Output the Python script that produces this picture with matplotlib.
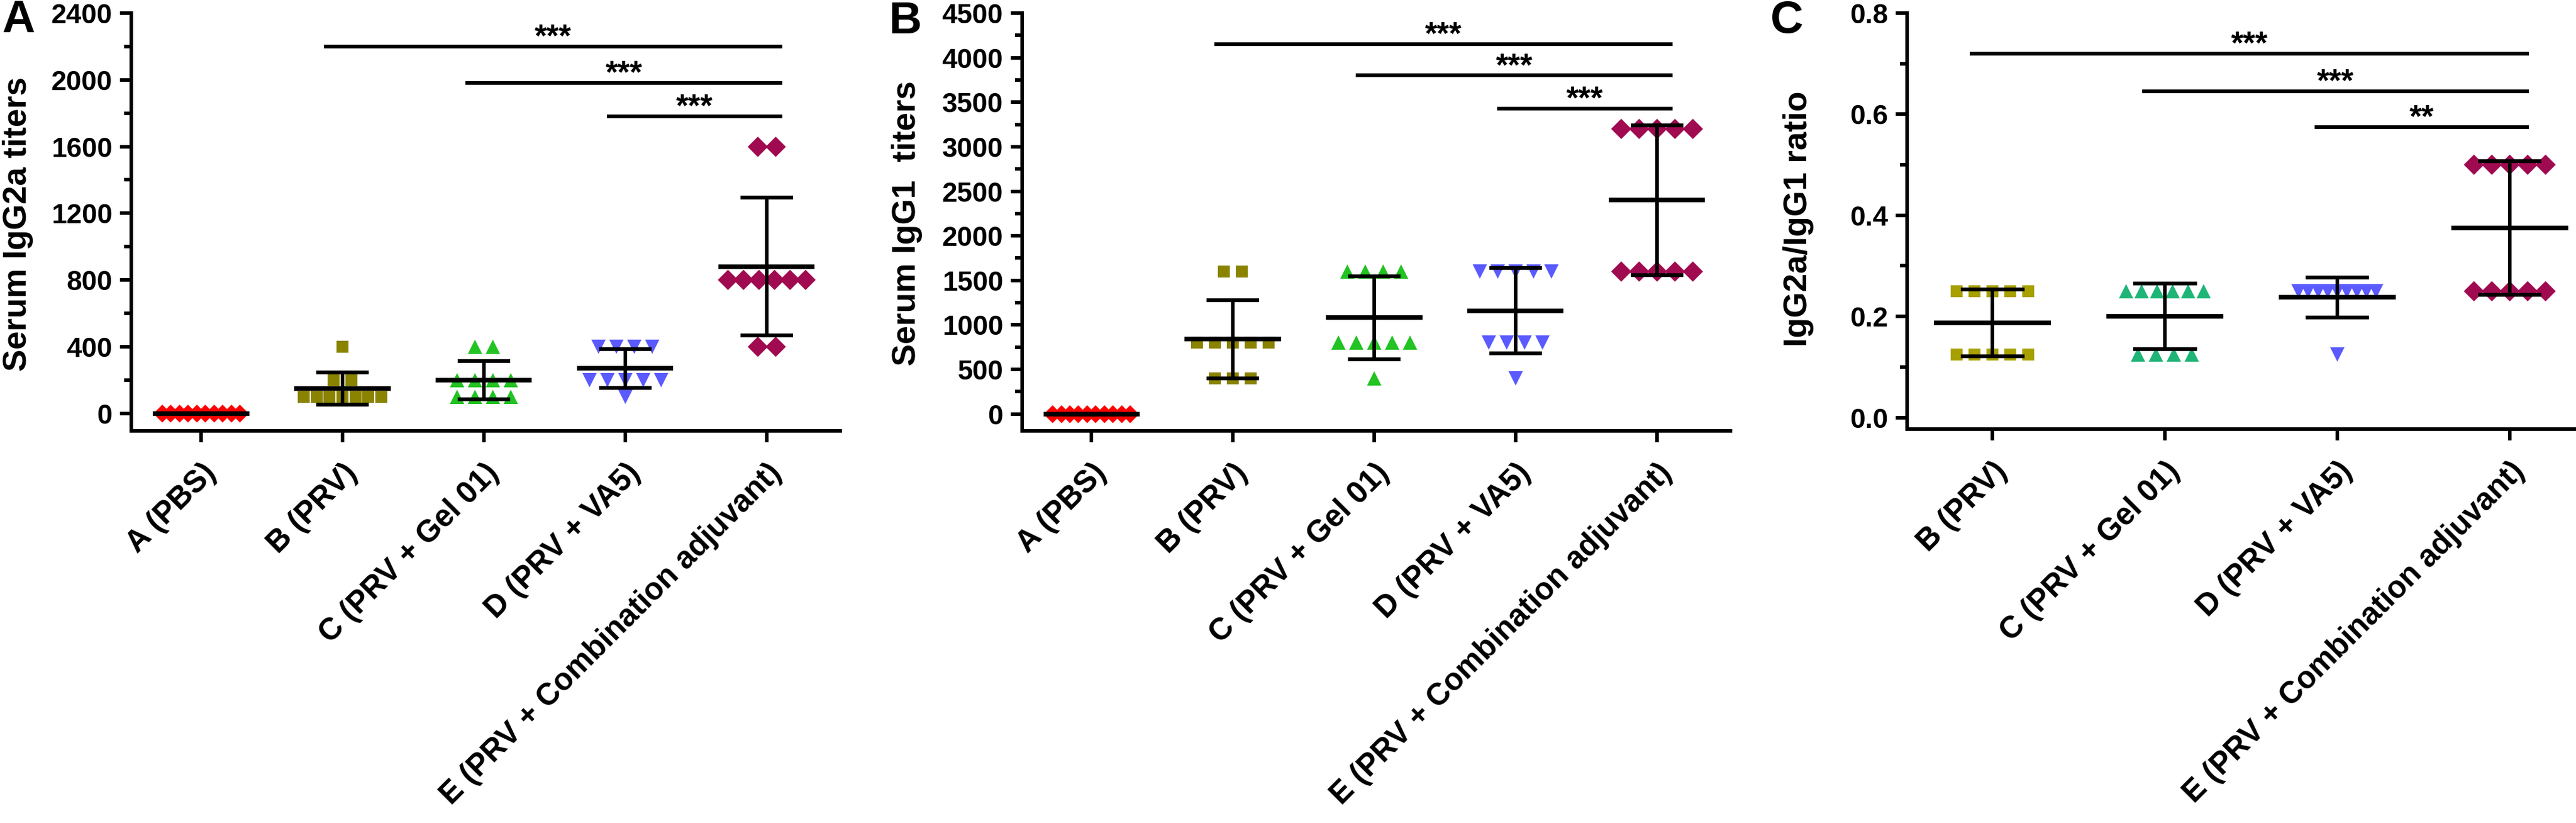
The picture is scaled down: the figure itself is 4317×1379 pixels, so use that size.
import numpy as np
import matplotlib
matplotlib.use("Agg")
import matplotlib.pyplot as plt
from matplotlib.ticker import MultipleLocator, FormatStrFormatter
from matplotlib.transforms import ScaledTranslation

plt.rcParams["font.family"] = ["Liberation Sans", "DejaVu Sans"]
plt.rcParams["font.weight"] = "bold"

# Groups
groups = ["A (PBS)", "B (PRV)", "C (PRV + Gel 01)", "D (PRV + VA5)",
          "E (PRV + Combination adjuvant)"]
colors = ["#FF0000", "#8A8300", "#22C322", "#5A5AFF", "#A00A50"]
colors_ratio = ["#A8A000", "#1FB577", "#5A5AFF", "#A00A50"]
markers = ["D", "s", "^", "v", "D"]
msizes = [15, 14, 17, 17, 17]

# Serum IgG2a titers (10 mice per group)
igg2a_A = [0, 0, 0, 0, 0, 0, 0, 0, 0, 0]
igg2a_B = [400, 200, 200, 100, 100, 100, 100, 100, 100, 100]
igg2a_C = [400, 400, 200, 200, 200, 200, 100, 100, 100, 100]
igg2a_D = [400, 400, 400, 400, 200, 200, 200, 200, 200, 100]
igg2a_E = [1600, 1600, 800, 800, 800, 800, 800, 800, 400, 400]

# Serum IgG1 titers
igg1_A = [0, 0, 0, 0, 0, 0, 0, 0, 0, 0]
igg1_B = [1600, 1600, 800, 800, 800, 800, 800, 400, 400, 400]
igg1_C = [1600, 1600, 1600, 1600, 800, 800, 800, 800, 800, 400]
igg1_D = [1600, 1600, 1600, 1600, 1600, 800, 800, 800, 800, 400]
igg1_E = [3200, 3200, 3200, 3200, 3200, 1600, 1600, 1600, 1600, 1600]

# IgG2a/IgG1 ratio (groups B-E)
ratio_B = [0.25, 0.25, 0.25, 0.25, 0.25, 0.125, 0.125, 0.125, 0.125, 0.125]
ratio_C = [0.25, 0.25, 0.25, 0.25, 0.25, 0.25, 0.125, 0.125, 0.125, 0.125]
ratio_D = [0.25, 0.25, 0.25, 0.25, 0.25, 0.25, 0.25, 0.25, 0.25, 0.125]
ratio_E = [0.5, 0.5, 0.5, 0.5, 0.5, 0.25, 0.25, 0.25, 0.25, 0.25]

# Significance bars: (from group, to group), height, label
sig_igg2a = [((1, 4), 2200, "***"), ((2, 4), 1980, "***"), ((3, 4), 1780, "***")]
sig_igg1 = [((1, 4), 4150, "***"), ((2, 4), 3800, "***"), ((3, 4), 3430, "***")]
sig_ratio = [((0, 3), 0.72, "***"), ((1, 3), 0.645, "***"), ((2, 3), 0.575, "**")]

W, H = 4317, 1379
fig = plt.figure(figsize=(W / 100, H / 100), dpi=100)


def make_axes(left, right, top, bottom):
    return fig.add_axes([left / W, 1 - bottom / H, (right - left) / W, (bottom - top) / H])


def spread(values, unit_px):
    # Prism-like horizontal spreading of equal values
    values = np.asarray(values, float)
    offs = np.zeros(len(values))
    for v in np.unique(values):
        idx = np.where(values == v)[0]
        n = len(idx)
        if n > 1:
            step = min(30.0, 130.0 / (n - 1))
            offs[idx] = (np.arange(n) - (n - 1) / 2) * step / unit_px
    return offs


def draw_panel(ax, data, names, cols, marks, sizes, xlim, ylim, major, minor, fmt, sig):
    width_px = ax.get_position().width * W
    unit_px = width_px / (xlim[1] - xlim[0])
    for i, vals in enumerate(data):
        vals = np.asarray(vals, float)
        x = i + spread(vals, unit_px)
        ax.plot(x, vals, linestyle="none", marker=marks[i], color=cols[i],
                markersize=sizes[i], markeredgewidth=0, zorder=2, clip_on=False)
        m = vals.mean()
        sd = vals.std(ddof=1)
        ax.hlines(m, i - 0.34, i + 0.34, color="black", lw=5.5, zorder=3)
        ax.vlines(i, m - sd, m + sd, color="black", lw=4.3, zorder=3)
        ax.hlines([m - sd, m + sd], i - 0.185, i + 0.185, color="black", lw=4.6, zorder=3)

    for (a, b), y, txt in sig:
        x0, x1 = a - 0.13, b + 0.11
        ax.plot([x0, x1], [y, y], color="black", lw=4.5, solid_capstyle="butt", clip_on=False)
        ax.text((x0 + x1) / 2, y, txt, ha="center", va="baseline", fontsize=38)

    ax.set_xlim(*xlim)
    ax.set_ylim(*ylim)
    ax.yaxis.set_major_locator(MultipleLocator(major))
    ax.yaxis.set_minor_locator(MultipleLocator(minor))
    ax.yaxis.set_major_formatter(FormatStrFormatter(fmt))
    ax.set_xticks(range(len(names)))
    ax.set_xticklabels(names, rotation=45, ha="right", va="top",
                       rotation_mode="anchor", fontsize=37, fontweight="bold")
    shift = ScaledTranslation(-9.5 / 72, 0, fig.dpi_scale_trans)
    for lab in ax.get_xticklabels():
        lab.set_transform(lab.get_transform() + shift)
    for lab in ax.get_yticklabels():
        lab.set_fontsize(33)
        lab.set_fontweight("bold")

    for side in ["top", "right"]:
        ax.spines[side].set_visible(False)
    for side in ["left", "bottom"]:
        ax.spines[side].set_linewidth(4.3)
    ax.tick_params(axis="y", which="major", direction="out", length=14, width=4.3, pad=9)
    ax.tick_params(axis="y", which="minor", direction="out", length=8.5, width=4.3)
    ax.tick_params(axis="x", which="major", direction="out", length=14, width=4.3, pad=19)
    ax.tick_params(axis="x", which="minor", length=0)
    ax.patch.set_visible(False)


# Panel A - IgG2a
axA = make_axes(220, 1408, 22, 722)
draw_panel(axA, [igg2a_A, igg2a_B, igg2a_C, igg2a_D, igg2a_E], groups, colors, markers, msizes,
           (-0.494, 4.52), (-105, 2400), 400, 200, "%d", sig_igg2a)

# Panel B - IgG1
axB = make_axes(1713, 2900, 22, 722)
draw_panel(axB, [igg1_A, igg1_B, igg1_C, igg1_D, igg1_E], groups, colors, markers, msizes,
           (-0.49, 4.52), (-190, 4500), 500, 250, "%d", sig_igg1)

# Panel C - ratio
axC = make_axes(3196, 4317, 22, 719)
draw_panel(axC, [ratio_B, ratio_C, ratio_D, ratio_E], groups[1:], colors_ratio, markers[1:], msizes[1:],
           (-0.495, 3.384), (-0.023, 0.8), 0.2, 0.1, "%.1f", sig_ratio)

# Axis titles and panel letters
fig.text(30 / W, 1 - 375 / H, "Serum IgG2a titers", rotation=90, ha="center", va="center", fontsize=40)
fig.text(1520 / W, 1 - 374 / H, "Serum IgG1  titers", rotation=90, ha="center", va="center", fontsize=40)
fig.text(3014 / W, 1 - 367 / H, "IgG2a/IgG1 ratio", rotation=90, ha="center", va="center", fontsize=40)
fig.text(31 / W, 1 - 35 / H, "A", ha="center", va="center", fontsize=55)
fig.text(1517 / W, 1 - 36 / H, "B", ha="center", va="center", fontsize=55)
fig.text(2995 / W, 1 - 36 / H, "C", ha="center", va="center", fontsize=55)

fig.savefig("out.png", dpi=100)
